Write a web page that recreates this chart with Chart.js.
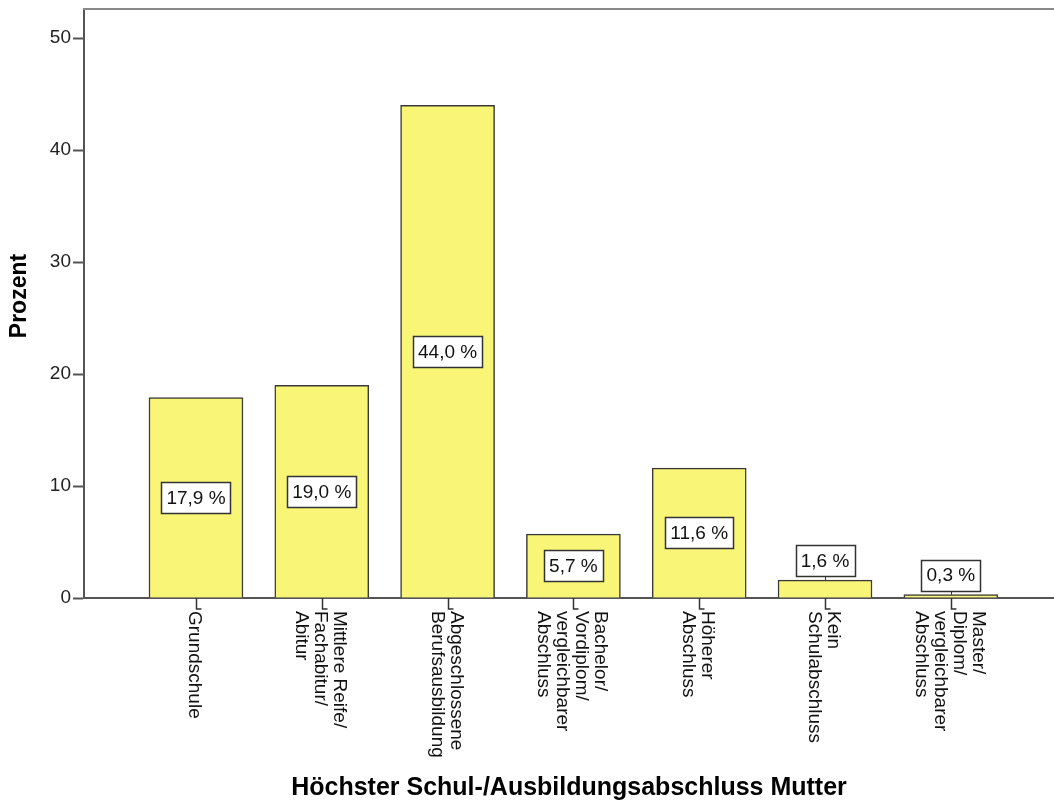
<!DOCTYPE html>
<html>
<head>
<meta charset="utf-8">
<script src="https://cdn.jsdelivr.net/npm/chart.js@4"></script>
<style>
  body { margin: 0; background: #fff; }
</style>
</head>
<body>
<canvas id="myChart" width="1054" height="803"></canvas>
<script>
// category labels, one array of lines per bar
const categories = [
  ["Grundschule"],
  ["Mittlere Reife/", "Fachabitur/", "Abitur"],
  ["Abgeschlossene", "Berufsausbildung"],
  ["Bachelor/", "Vordiplom/", "vergleichbarer", "Abschluss"],
  ["Höherer", "Abschluss"],
  ["Kein", "Schulabschluss"],
  ["Master/", "Diplom/", "vergleichbarer", "Abschluss"],
];
const percent = [17.9, 19.0, 44.0, 5.7, 11.6, 1.6, 0.3];
const yTicks = [0, 10, 20, 30, 40, 50];
const yTitle = "Prozent";
const xTitle = "Höchster Schul-/Ausbildungsabschluss Mutter";

const FONT = '"Liberation Sans", Arial, sans-serif';
Chart.defaults.font.family = FONT;

let canvas = document.getElementById("myChart");

const spssLabels = {
  id: "spssLabels",
  afterDraw(chart) {
    const ctx = chart.ctx;
    const area = chart.chartArea;
    const xs = chart.scales.x;
    ctx.save();

    // top frame line
    ctx.strokeStyle = "#8a8a8a";
    ctx.lineWidth = 2;
    ctx.beginPath();
    ctx.moveTo(area.left - 1, area.top);
    ctx.lineTo(area.right, area.top);
    ctx.stroke();

    // category ticks and rotated labels
    ctx.font = "19px " + FONT;
    ctx.fillStyle = "#111";
    categories.forEach((lines, i) => {
      const x = Math.round(xs.getPixelForValue(i)) + 0.5;
      ctx.strokeStyle = "#333";
      ctx.lineWidth = 1.5;
      ctx.beginPath();
      ctx.moveTo(x, area.bottom);
      ctx.lineTo(x, area.bottom + 11);
      ctx.lineTo(x + 5, area.bottom + 11);
      ctx.stroke();

      ctx.save();
      ctx.translate(x, area.bottom + 13);
      ctx.rotate(Math.PI / 2);
      ctx.textAlign = "left";
      ctx.textBaseline = "middle";
      lines.forEach((t, k) => {
        ctx.fillText(t, 0, (k - (lines.length - 1) / 2) * 19 + 2);
      });
      ctx.restore();
    });

    // value boxes
    const meta = chart.getDatasetMeta(0);
    ctx.textAlign = "center";
    ctx.textBaseline = "middle";
    meta.data.forEach((bar, i) => {
      const txt = percent[i].toFixed(1).replace(".", ",") + " %";
      const w = Math.round(ctx.measureText(txt).width + 10);
      const h = 31;
      const barH = bar.base - bar.y;
      let cy;
      if (barH > h + 8) {
        cy = (bar.y + bar.base) / 2;
      } else {
        cy = bar.y - 4 - h / 2;
        ctx.strokeStyle = "#333";
        ctx.lineWidth = 1;
        ctx.beginPath();
        ctx.moveTo(Math.round(bar.x) + 0.5, cy + h / 2);
        ctx.lineTo(Math.round(bar.x) + 0.5, bar.y);
        ctx.stroke();
      }
      const bx = Math.round(bar.x - w / 2) + 0.5;
      const by = Math.round(cy - h / 2) + 0.5;
      ctx.fillStyle = "#fff";
      ctx.fillRect(bx, by, w, h);
      ctx.strokeStyle = "#333";
      ctx.lineWidth = 1.5;
      ctx.strokeRect(bx, by, w, h);
      ctx.fillStyle = "#111";
      ctx.fillText(txt, bar.x, cy + 1);
    });

    // axis titles
    ctx.fillStyle = "#000";
    ctx.font = "bold 25px " + FONT;
    ctx.fillText(xTitle, (area.left + area.right) / 2, 788);
    ctx.save();
    ctx.translate(20, 296);
    ctx.rotate(-Math.PI / 2);
    ctx.font = "bold 23px " + FONT;
    ctx.fillText(yTitle, 0, 0);
    ctx.restore();

    ctx.restore();
  },
};

let chart = new Chart(canvas, {
  type: "bar",
  data: {
    datasets: [
      {
        label: yTitle,
        data: percent.map((v, i) => ({ x: i, y: v })),
        backgroundColor: "#F9F677",
        borderColor: "#3a3a3a",
        borderWidth: 1.5,
        barThickness: 94,
      },
    ],
  },
  options: {
    responsive: false,
    animation: false,
    devicePixelRatio: 1,
    layout: { padding: { top: 9, right: 0, left: 0, bottom: 0 } },
    plugins: { legend: { display: false }, tooltip: { enabled: false } },
    scales: {
      x: {
        type: "linear",
        offset: false,
        min: -0.89,
        max: 6.82,
        ticks: { display: false },
        grid: { display: true, offset: false, drawOnChartArea: false, drawTicks: false },
        border: { display: true, color: "#555", width: 2 },
        afterFit(s) {
          s.height = 205;
          s.paddingLeft = 0;
          s.paddingRight = 0;
        },
      },
      y: {
        min: 0,
        max: 52.6,
        afterBuildTicks(s) {
          s.ticks = yTicks.map((v) => ({ value: v }));
        },
        ticks: { color: "#222", font: { size: 19 }, padding: 2 },
        grid: {
          drawOnChartArea: false,
          tickLength: 11,
          tickWidth: 2,
          tickColor: "#555",
        },
        border: { display: true, color: "#555", width: 2 },
        afterFit(s) {
          s.width = 84;
          s.paddingTop = 0;
          s.paddingBottom = 0;
        },
      },
    },
  },
  plugins: [spssLabels],
});
</script>
</body>
</html>
